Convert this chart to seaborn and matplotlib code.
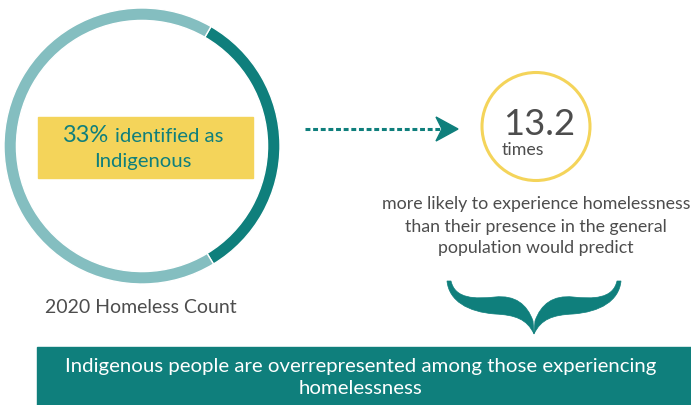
import numpy as np
import matplotlib.pyplot as plt
import seaborn as sns
from matplotlib.patches import Rectangle, Circle, Polygon, PathPatch
from matplotlib.path import Path

# Data
groups = ["Indigenous", "Other"]
share = [33, 67]
ratio = 13.2
count_year = 2020
box_label = "identified as\nIndigenous"
ratio_unit = "times"
ratio_note = ["more likely to experience homelessness",
              "than their presence in the general",
              "population would predict"]
banner = ["Indigenous people are overrepresented among those experiencing",
          "homelessness"]

sns.set_theme(style="white")
plt.rcParams['font.family'] = ['Lato', 'DejaVu Sans']

DARK = "#0f7f7c"
LIGHT = "#84bec0"
YELLOW = "#f4d45a"
GREY = "#4d4d4d"

fig = plt.figure(figsize=(6.91, 4.06), dpi=100)
ax = fig.add_axes([0, 0, 1, 1])
ax.set_xlim(0, 691)
ax.set_ylim(406, 0)
ax.axis('off')
rend = fig.canvas.get_renderer()


def fit(t, width):
    w = t.get_window_extent(rend).width
    t.set_fontsize(t.get_fontsize() * width / w)
    return t.get_fontsize()


# donut
dax = fig.add_axes([4 / 691, (406 - 285) / 406, 276 / 691, 276 / 406])
dax.pie(share, colors=[DARK, LIGHT], startangle=60, counterclock=False,
        radius=1, wedgeprops=dict(width=0.09, edgecolor="white", linewidth=1))
dax.set_xlim(-1, 1)
dax.set_ylim(-1, 1)
dax.set_aspect('equal')
dax.axis('off')

# yellow label box
ax.add_patch(Rectangle((38, 118), 215, 61, color=YELLOW, zorder=1))
l1a, l1b = box_label.split("\n")
t = ax.text(62, 142, f"{share[0]}%", color=DARK, ha='left', va='baseline', fontsize=15)
fit(t, 46)
t = ax.text(115, 142, l1a, color=DARK, ha='left', va='baseline', fontsize=12)
fs = fit(t, 108)
ax.text(143, 167, l1b, color=DARK, ha='center', va='baseline', fontsize=fs)

t = ax.text(45, 313, f"{count_year} Homeless Count", color=GREY, ha='left',
            va='baseline', fontsize=13)
fit(t, 192)

# dashed arrow
ax.plot([305, 441], [130, 130], color=DARK, lw=2.2, linestyle=(0, (1.6, 0.9)),
        solid_capstyle='butt')
ax.add_patch(Polygon([(436, 118), (458, 130), (436, 142), (442, 130)],
                     closed=True, color=DARK))

# ratio circle
ax.add_patch(Circle((536, 127.5), 54, fill=False, edgecolor=YELLOW, lw=2.2))
t = ax.text(539, 135, f"{ratio}", color=GREY, ha='center', va='baseline', fontsize=28)
fit(t, 72)
t = ax.text(502, 155, ratio_unit, color=GREY, ha='left', va='baseline', fontsize=11)
fit(t, 42)

t = ax.text(536, 209, ratio_note[0], color=GREY, ha='center', va='baseline', fontsize=11)
fs = fit(t, 307)
for y, line in zip([232, 253], ratio_note[1:]):
    ax.text(536, y, line, color=GREY, ha='center', va='baseline', fontsize=fs)

# curly brace (left half, mirrored for the right)
left = [(451, 282),
        (455, 300), (475, 300), (495, 298),
        (515, 296), (527, 305), (533, 322),
        (534, 335),
        (527, 320), (515, 316), (495, 315),
        (468, 313), (449, 302), (447, 282)]
codes = [Path.MOVETO, Path.CURVE4, Path.CURVE4, Path.CURVE4,
         Path.CURVE4, Path.CURVE4, Path.CURVE4, Path.LINETO,
         Path.CURVE4, Path.CURVE4, Path.CURVE4,
         Path.CURVE4, Path.CURVE4, Path.CURVE4]
for sign in (1, -1):
    verts = [(534 + sign * (x - 534), y) for x, y in left]
    verts.append(verts[0])
    ax.add_patch(PathPatch(Path(verts, codes + [Path.CLOSEPOLY]),
                           facecolor=DARK, edgecolor=DARK, lw=0.5))

# banner
ax.add_patch(Rectangle((37, 348), 660, 60, color=DARK))
t = ax.text(361, 372, banner[0], color="white", ha='center', va='baseline', fontsize=14)
fs = fit(t, 592)
ax.text(361, 394, banner[1], color="white", ha='center', va='baseline', fontsize=fs)

fig.savefig("out.png", dpi=100)
